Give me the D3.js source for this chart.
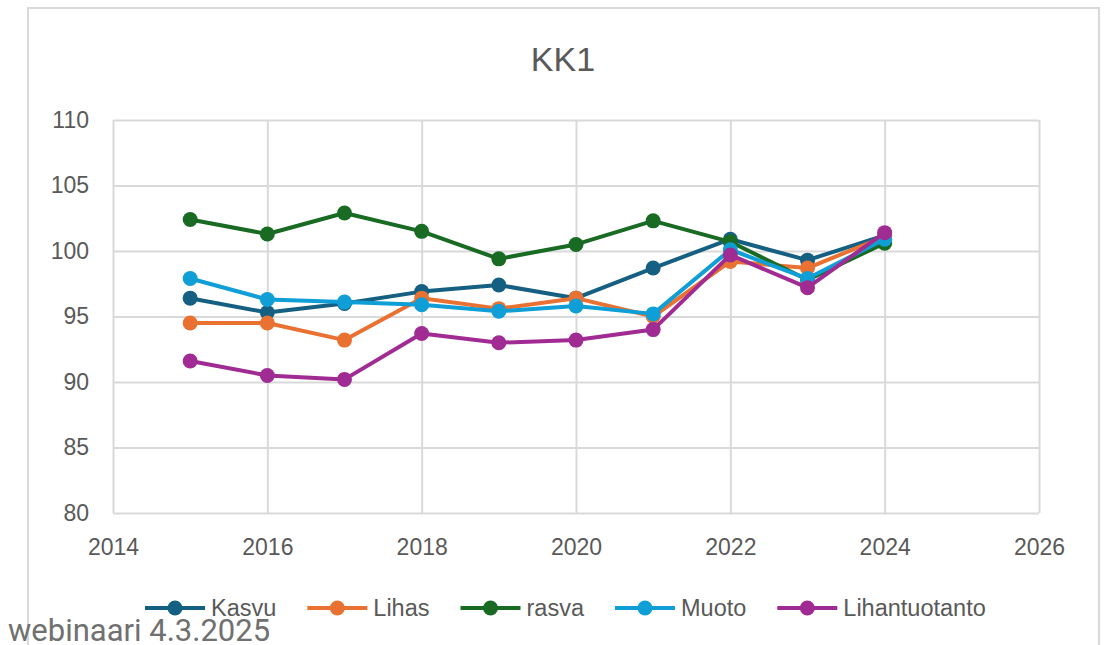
<!DOCTYPE html>
<html>
<head>
<meta charset="utf-8">
<script src="https://cdn.jsdelivr.net/npm/d3@7"></script>
<style>
  body { margin: 0; background: #fff; }
  svg { display: block; }
</style>
</head>
<body>
<script>
// values
var years = [2015, 2016, 2017, 2018, 2019, 2020, 2021, 2022, 2023, 2024];
var kasvu = [96.4, 95.3, 96.0, 96.9, 97.4, 96.4, 98.7, 100.9, 99.3, 101.2];
var lihas = [94.5, 94.5, 93.2, 96.4, 95.6, 96.4, 95.0, 99.2, 98.7, 101.1];
var rasva = [102.4, 101.3, 102.9, 101.5, 99.4, 100.5, 102.3, 100.7, 97.8, 100.6];
var muoto = [97.9, 96.3, 96.1, 95.9, 95.4, 95.8, 95.2, 100.1, 97.9, 100.9];
var lihantuotanto = [91.6, 90.5, 90.2, 93.7, 93.0, 93.2, 94.0, 99.7, 97.2, 101.4];

var seriesNames = ["Kasvu", "Lihas", "rasva", "Muoto", "Lihantuotanto"];
var seriesValues = [kasvu, lihas, rasva, muoto, lihantuotanto];
var seriesColors = ["#156082", "#E97132", "#196B24", "#0F9ED5", "#A02B93"];

var xTicks = [2014, 2016, 2018, 2020, 2022, 2024, 2026];
var yTicks = [80, 85, 90, 95, 100, 105, 110];

var W = 1111, H = 645;
var plot = { left: 113, right: 1039, top: 120, bottom: 513 };
var textColor = "#595959";
var gridColor = "#d9d9d9";

var svg = d3.select("body").append("svg")
  .attr("width", W)
  .attr("height", H);

// chart frame
svg.append("rect")
  .attr("x", 28).attr("y", 8)
  .attr("width", 1071).attr("height", 700)
  .attr("fill", "#fff")
  .attr("stroke", gridColor)
  .attr("stroke-width", 2);

// title
svg.append("text")
  .attr("x", 563).attr("y", 71)
  .attr("text-anchor", "middle")
  .style("font-family", "'Liberation Sans', Arial, sans-serif")
  .style("font-size", "34px")
  .style("fill", textColor)
  .text("KK1");

var x = d3.scaleLinear().domain([2014, 2026]).range([plot.left, plot.right]);
var y = d3.scaleLinear().domain([80, 110]).range([plot.bottom, plot.top]);

// gridlines via axes
var yAxis = d3.axisLeft(y)
  .tickValues(yTicks)
  .tickSize(-(plot.right - plot.left))
  .tickPadding(24)
  .tickFormat(d3.format("d"));

var xAxis = d3.axisBottom(x)
  .tickValues(xTicks)
  .tickSize(-(plot.bottom - plot.top))
  .tickPadding(26)
  .tickFormat(d3.format("d"));

var gx = svg.append("g")
  .attr("transform", "translate(0," + plot.bottom + ")")
  .call(xAxis);
var gy = svg.append("g")
  .attr("transform", "translate(" + plot.left + ",0)")
  .call(yAxis);

[gx, gy].forEach(function(g) {
  g.select(".domain").remove();
  g.selectAll(".tick line")
    .attr("stroke", gridColor)
    .attr("stroke-width", 2);
  g.selectAll(".tick text")
    .style("font-family", "'Liberation Sans', Arial, sans-serif")
    .style("font-size", "23px")
    .style("fill", textColor);
});

// series
var line = d3.line()
  .x(function(d, i) { return x(years[i]); })
  .y(function(d) { return y(d); });

seriesValues.forEach(function(vals, si) {
  var g = svg.append("g");
  g.append("path")
    .datum(vals)
    .attr("d", line)
    .attr("fill", "none")
    .attr("stroke", seriesColors[si])
    .attr("stroke-width", 4)
    .attr("stroke-linejoin", "round");
  g.selectAll("circle")
    .data(vals)
    .enter().append("circle")
    .attr("cx", function(d, i) { return x(years[i]); })
    .attr("cy", function(d) { return y(d); })
    .attr("r", 7.5)
    .attr("fill", seriesColors[si]);
});

// legend
var legend = svg.append("g");
var lx = 145, ly = 608;
seriesNames.forEach(function(name, i) {
  var item = legend.append("g");
  item.append("line")
    .attr("x1", lx).attr("x2", lx + 60)
    .attr("y1", ly).attr("y2", ly)
    .attr("stroke", seriesColors[i])
    .attr("stroke-width", 4);
  item.append("circle")
    .attr("cx", lx + 30).attr("cy", ly)
    .attr("r", 7.5)
    .attr("fill", seriesColors[i]);
  var t = item.append("text")
    .attr("x", lx + 66).attr("y", ly + 8)
    .style("font-family", "'Liberation Sans', Arial, sans-serif")
    .style("font-size", "23.5px")
    .style("fill", textColor)
    .text(name);
  lx = lx + 66 + t.node().getComputedTextLength() + 31;
});

// slide footer text
svg.append("text")
  .attr("x", 8).attr("y", 641)
  .style("font-family", "Roboto, 'Liberation Sans', sans-serif")
  .style("font-size", "31px")
  .style("fill", "#707070")
  .text("webinaari 4.3.2025");
</script>
</body>
</html>
